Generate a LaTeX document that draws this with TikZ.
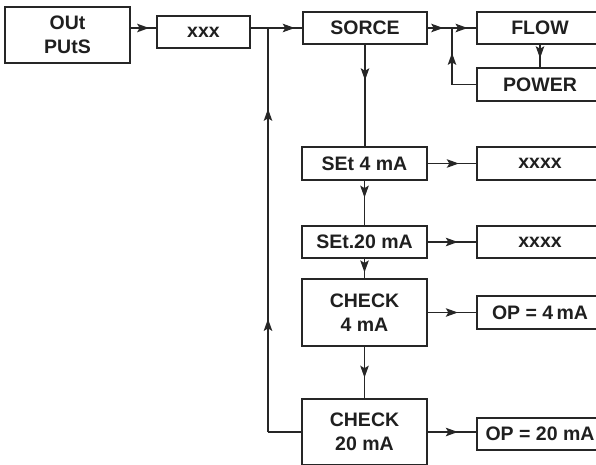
\documentclass[tikz,border=0pt]{standalone}
\usepackage{fontspec}
\setmainfont{Liberation Sans}
\usetikzlibrary{arrows.meta,decorations.markings}
\tikzset{
  blk/.style={draw=black!85, line width=1.4pt, rectangle, align=center, inner sep=0pt,
    font=\fontsize{19.5}{24.5}\selectfont\bfseries, text=black!88},
  conn/.style={draw=black!85, line width=1.3pt},
  arr/.style={conn, postaction={decorate}, decoration={markings,
    mark=at position #1 with {\arrow{Stealth[length=12pt,width=8.5pt,inset=2.5pt]}}}},
  arr/.default=0.6
}
\begin{document}
\begin{tikzpicture}[x=1pt,y=-1pt]
\useasboundingbox (0,0) rectangle (596,464);
\clip (0,0) rectangle (596,464);
% nodes
\node[blk, minimum width=125pt, minimum height=56pt] (outputs) at (67.5,35) {OUt\\PUtS};
\node[blk, minimum width=93pt, minimum height=32pt] (xxx) at (203.5,32) {xxx};
\node[blk, minimum width=124pt, minimum height=32pt] (sorce) at (365,28) {SORCE};
\node[blk, minimum width=126pt, minimum height=32pt] (flow) at (540,28) {FLOW};
\node[blk, minimum width=126pt, minimum height=33pt] (power) at (540,84.5) {POWER};
\node[blk, minimum width=125pt, minimum height=33pt] (set4) at (364.5,163.5) {SEt 4 mA};
\node[blk, minimum width=126pt, minimum height=33pt] (x4) at (540,163.5) {xxxx};
\node[blk, minimum width=125pt, minimum height=32pt] (set20) at (364.5,242) {SEt.20 mA};
\node[blk, minimum width=126pt, minimum height=32pt] (x20) at (540,242) {xxxx};
\node[blk, minimum width=125pt, minimum height=67pt] (check4) at (364.5,312.5) {CHECK\\4 mA};
\node[blk, minimum width=126pt, minimum height=33pt] (op4) at (540,312.5) {OP = 4\,mA};
\node[blk, minimum width=125pt, minimum height=66pt] (check20) at (364.5,432) {CHECK\\20 mA};
\node[blk, minimum width=126pt, minimum height=32pt] (op20) at (540,434) {OP = 20 mA};
% helper coordinates
\coordinate (row) at (0,28);
\coordinate (J1) at (268,28);
\coordinate (J2) at (452,28);
\coordinate (J3) at (452,84.5);
\coordinate (J4) at (268,432);
% connectors
\draw[arr=0.72] (outputs.east |- row) -- (xxx.west |- row);
\draw[conn] (xxx.east |- row) -- (J1);
\draw[arr=0.78] (J1) -- (sorce.west);
\draw[arr=0.64] (sorce.east) -- (J2);
\draw[arr=0.64] (J2) -- (flow.west);
\draw[arr=0.6] (flow.south) -- (power.north);
\draw[conn] (power.west) -- (J3);
\draw[arr=0.56] (J3) -- (J2);
\draw[arr=0.35] (sorce.south) -- (sorce.south |- set4.north);
\draw[arr=0.64] (set4.east) -- (x4.west);
\draw[arr=0.38] (set4.south) -- (set20.north);
\draw[arr=0.62] (set20.east) -- (x20.west);
\draw[arr=0.7] (set20.south) -- (check4.north);
\draw[arr=0.62] (check4.east) -- (op4.west);
\draw[arr=0.6] (check4.south) -- (check20.north);
\draw[arr=0.62] (check20.east) -- (check20.east -| op20.west);
\draw[conn] (check20.west) -- (J4);
\draw[arr=0.28] (J4) -- (J1);
\draw[arr=0.80] (J4) -- (J1);
\end{tikzpicture}
\end{document}
